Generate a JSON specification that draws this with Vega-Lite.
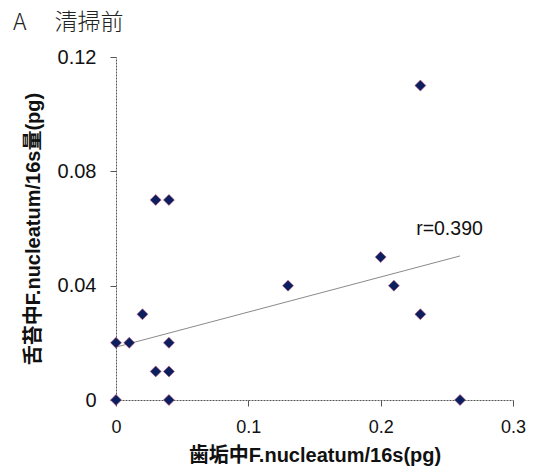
{
  "$schema": "https://vega.github.io/schema/vega-lite/v6.json",
  "autosize": "none",
  "width": 397,
  "height": 343,
  "padding": {"left": 116, "top": 57, "right": 22, "bottom": 70},
  "background": "white",
  "title": {
    "text": "A　 清掃前",
    "anchor": "start",
    "frame": "group",
    "dx": -103,
    "offset": 12,
    "font": "Noto Sans CJK JP",
    "fontWeight": 300,
    "fontSize": 23,
    "color": "#222"
  },
  "config": {
    "view": {"stroke": null},
    "axis": {
      "grid": false,
      "domainColor": "#555",
      "domainDash": [2, 1],
      "tickColor": "#555",
      "tickSize": 6,
      "labelFlush": false,
      "format": "~g",
      "labelFont": "Liberation Sans",
      "labelFontSize": 19,
      "labelColor": "#111",
      "titleFont": "Liberation Sans, Noto Sans CJK JP",
      "titleFontSize": 20,
      "titleFontWeight": "bold",
      "titleColor": "#111"
    }
  },
  "datasets": {
    "pts": [
      {"x": 0, "y": 0},
      {"x": 0, "y": 0.02},
      {"x": 0.01, "y": 0.02},
      {"x": 0.02, "y": 0.03},
      {"x": 0.03, "y": 0.07},
      {"x": 0.04, "y": 0.07},
      {"x": 0.03, "y": 0.01},
      {"x": 0.04, "y": 0.01},
      {"x": 0.04, "y": 0.02},
      {"x": 0.04, "y": 0},
      {"x": 0.13, "y": 0.04},
      {"x": 0.2, "y": 0.05},
      {"x": 0.21, "y": 0.04},
      {"x": 0.23, "y": 0.03},
      {"x": 0.23, "y": 0.11},
      {"x": 0.26, "y": 0}
    ],
    "trend": [
      {"x": 0, "y": 0.0185},
      {"x": 0.26, "y": 0.0504}
    ],
    "label": [
      {"x": 0.252, "y": 0.06, "t": "r=0.390"}
    ]
  },
  "layer": [
    {
      "data": {"name": "trend"},
      "mark": {"type": "line", "color": "#8a8a8a", "strokeWidth": 1},
      "encoding": {
        "x": {
          "field": "x", "type": "quantitative",
          "scale": {"domain": [0, 0.3], "nice": false},
          "axis": {"values": [0, 0.1, 0.2, 0.3], "title": "歯垢中F.nucleatum/16s(pg)", "labelPadding": 12, "labelFontSize": 18, "titlePadding": 9}
        },
        "y": {
          "field": "y", "type": "quantitative",
          "scale": {"domain": [0, 0.12], "nice": false},
          "axis": {"values": [0, 0.04, 0.08, 0.12], "title": "舌苔中F.nucleatum/16s量(pg)", "labelPadding": 14, "labelFontSize": 20, "titlePadding": 14}
        }
      }
    },
    {
      "data": {"name": "pts"},
      "mark": {"type": "point", "shape": "diamond", "filled": true, "fill": "#0b1f5e", "stroke": "#c0507a", "strokeWidth": 0.6, "size": 120, "opacity": 1},
      "encoding": {
        "x": {"field": "x", "type": "quantitative"},
        "y": {"field": "y", "type": "quantitative"}
      }
    },
    {
      "data": {"name": "label"},
      "mark": {"type": "text", "font": "Liberation Sans", "fontSize": 19.5, "color": "#111", "align": "center", "baseline": "middle"},
      "encoding": {
        "x": {"field": "x", "type": "quantitative"},
        "y": {"field": "y", "type": "quantitative"},
        "text": {"field": "t"}
      }
    }
  ]
}
